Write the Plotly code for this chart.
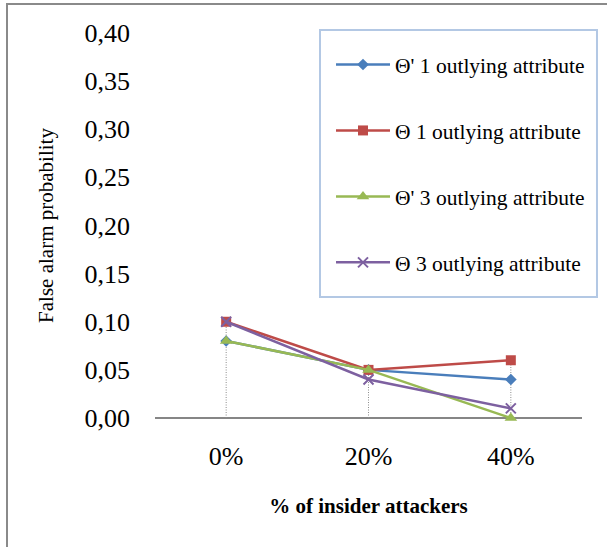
import plotly.graph_objects as go

# Share of insider attackers (category axis)
categories = ["0%", "20%", "40%"]

# False alarm probability per configuration
theta_p_1 = [0.08, 0.05, 0.04]   # Θ' 1 outlying attribute
theta_1 = [0.10, 0.05, 0.06]     # Θ 1 outlying attribute
theta_p_3 = [0.08, 0.05, 0.00]   # Θ' 3 outlying attribute
theta_3 = [0.10, 0.04, 0.01]     # Θ 3 outlying attribute

series_names = [
    "Θ' 1 outlying attribute",
    "Θ 1 outlying attribute",
    "Θ' 3 outlying attribute",
    "Θ 3 outlying attribute",
]
y_ticks = [0.0, 0.05, 0.10, 0.15, 0.20, 0.25, 0.30, 0.35, 0.40]
y_tick_text = ["0,00", "0,05", "0,10", "0,15", "0,20", "0,25", "0,30", "0,35", "0,40"]

series = [theta_p_1, theta_1, theta_p_3, theta_3]
colors = ["#4A7EBB", "#BE4B48", "#98B954", "#7D60A0"]
symbols = ["diamond", "square", "triangle-up", "x-thin"]
sizes = [9, 10, 11, 10]

SERIF = "Liberation Serif, Times New Roman, serif"

fig = go.Figure()

# Dotted drop lines from the highest value of each category down to the axis
drop_x, drop_y = [], []
for i, c in enumerate(categories):
    top = max(s[i] for s in series)
    drop_x += [c, c, None]
    drop_y += [0, top, None]
fig.add_trace(go.Scatter(
    x=drop_x, y=drop_y, mode="lines", showlegend=False, hoverinfo="skip",
    line=dict(color="#8C8C8C", width=1, dash="1px,1.5px"),
))

for k, (name, vals) in enumerate(zip(series_names, series)):
    fig.add_trace(go.Scatter(
        x=categories, y=vals, name=name, mode="lines+markers",
        legendgroup=f"g{k}",
        line=dict(color=colors[k], width=2.5),
        marker=dict(symbol=symbols[k], size=sizes[k], color=colors[k],
                    line=dict(color=colors[k], width=2 if symbols[k] == "x-thin" else 0)),
        cliponaxis=False,
    ))

fig.update_layout(
    width=607, height=547,
    margin=dict(l=155, r=25, t=33, b=129),
    paper_bgcolor="white", plot_bgcolor="white",
    font=dict(family=SERIF, color="black"),
    showlegend=True,
    legend=dict(
        x=0.4122, y=0.9714, xanchor="left", yanchor="top",
        bgcolor="rgba(0,0,0,0)", borderwidth=0,
        font=dict(family=SERIF, size=21.5, color="black"),
        tracegroupgap=35, itemwidth=54,
    ),
    xaxis=dict(
        type="category", range=[-0.5, 2.5],
        showgrid=False, zeroline=False,
        showline=False, ticks="",
        tickfont=dict(family=SERIF, size=26), ticklabelstandoff=20,
        title=dict(text="<b>% of insider attackers</b>",
                   font=dict(family=SERIF, size=21), standoff=28),
    ),
    yaxis=dict(
        range=[0, 0.40], tickvals=y_ticks, ticktext=y_tick_text,
        showgrid=False, zeroline=True, zerolinecolor="#868686", zerolinewidth=2,
        showline=False, ticks="",
        tickfont=dict(family=SERIF, size=26), ticklabelstandoff=24,
        title=dict(text="False alarm probability",
                   font=dict(family=SERIF, size=21), standoff=25),
    ),
    shapes=[
        # outer frame of the chart area
        dict(type="rect", xref="paper", yref="paper",
             x0=-0.3466, x1=1.08, y0=-0.36, y1=1.0753,
             line=dict(color="#8A8A8A", width=2), fillcolor="rgba(0,0,0,0)",
             layer="below"),
        # legend box
        dict(type="rect", xref="paper", yref="paper",
             x0=0.3864, x1=1.0351, y0=0.3143, y1=1.0078,
             line=dict(color="#B3C8E4", width=2), fillcolor="white",
             layer="below"),
    ],
)

fig.write_html("out.html")
